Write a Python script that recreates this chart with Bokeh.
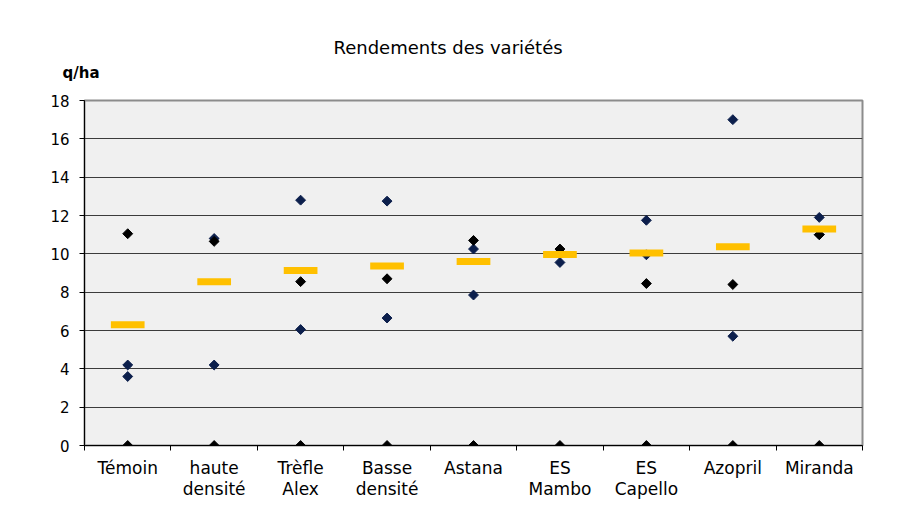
from bokeh.plotting import figure
from bokeh.models import ColumnDataSource, FixedTicker, Title, Range1d
from bokeh.embed import file_html
from bokeh.resources import INLINE

# ---- data ----
categories = ["Témoin", "haute\ndensité", "Trèfle\nAlex", "Basse\ndensité", "Astana",
              "ES\nMambo", "ES\nCapello", "Azopril", "Miranda"]
rep_black = [11.05, 10.65, 8.55, 8.7, 10.7, 10.25, 8.45, 8.4, 11.0]
rep_navy1 = [4.2, 10.8, 12.8, 12.75, 10.25, 9.55, 11.75, 17.0, 11.9]
rep_navy2 = [3.6, 4.2, 6.05, 6.65, 7.85, 10.1, 9.95, 5.7, 11.0]
zero_series = [0, 0, 0, 0, 0, 0, 0, 0, 0]
means = [6.3, 8.55, 9.13, 9.37, 9.6, 9.96, 10.05, 10.37, 11.3]
y_ticks = [0, 2, 4, 6, 8, 10, 12, 14, 16, 18]

xpos = [i + 0.5 for i in range(len(categories))]
bounds = [i for i in range(len(categories) + 1)]

FONT = "DejaVu Sans"

p = figure(frame_width=778, frame_height=345, output_backend="svg", toolbar_location=None,
           title=None, x_range=Range1d(0, len(categories)), y_range=Range1d(0, 18),
           min_border_left=84, min_border_right=27, min_border_top=100, min_border_bottom=50)

p.background_fill_color = "#f0f0f0"
p.border_fill_color = "white"
p.outline_line_color = "#8c8c8c"
p.outline_line_width = 2

# titles
p.add_layout(Title(text="q/ha", align="left", offset=-22, standoff=38, text_font=FONT,
                   text_font_size="15px", text_font_style="bold", text_color="black"), "above")
p.add_layout(Title(text="Rendements des variétés", align="left", offset=249, standoff=-31,
                   text_font=FONT, text_font_size="18px", text_font_style="normal",
                   text_color="black"), "above")

# grid
p.xgrid.grid_line_color = None
p.ygrid.grid_line_color = "#3c3c3c"
p.ygrid.grid_line_width = 1
p.ygrid.ticker = FixedTicker(ticks=y_ticks)

# y axis
p.yaxis.ticker = FixedTicker(ticks=y_ticks)
p.yaxis.axis_line_color = "black"
p.yaxis.major_tick_line_color = "black"
p.yaxis.major_tick_out = 5
p.yaxis.major_tick_in = 0
p.yaxis.minor_tick_line_color = None
p.yaxis.major_label_text_font = FONT
p.yaxis.major_label_text_font_size = "15px"
p.yaxis.major_label_text_color = "black"
p.yaxis.major_label_standoff = 10

# x axis: labels at centres, tick marks at boundaries
p.xaxis.ticker = FixedTicker(ticks=xpos, minor_ticks=bounds)
p.xaxis.major_label_overrides = {x: c for x, c in zip(xpos, categories)}
p.xaxis.axis_line_color = "black"
p.xaxis.major_tick_line_color = None
p.xaxis.major_tick_out = 0
p.xaxis.minor_tick_line_color = "black"
p.xaxis.minor_tick_out = 5
p.xaxis.minor_tick_in = 0
p.xaxis.major_label_text_font = FONT
p.xaxis.major_label_text_font_size = "17px"
p.xaxis.major_label_text_line_height = 1.05
p.xaxis.major_label_text_color = "black"
p.xaxis.major_label_standoff = 7

src = ColumnDataSource(dict(x=xpos, black=rep_black, navy1=rep_navy1, navy2=rep_navy2,
                            zero=zero_series, mean=means))

NAVY = "#0c1f4c"
for col, color in [("navy1", NAVY), ("navy2", NAVY), ("black", "black"), ("zero", "black")]:
    p.scatter(x="x", y=col, source=src, marker="square", angle=0.785398, size=7,
              fill_color=color, line_color=color)

# mean bars (drawn over the points)
p.rect(x="x", y="mean", width=0.39, height=7, height_units="screen", source=src,
       fill_color="#ffc000", line_color=None)

open("out.html", "w").write(file_html(p, INLINE))
